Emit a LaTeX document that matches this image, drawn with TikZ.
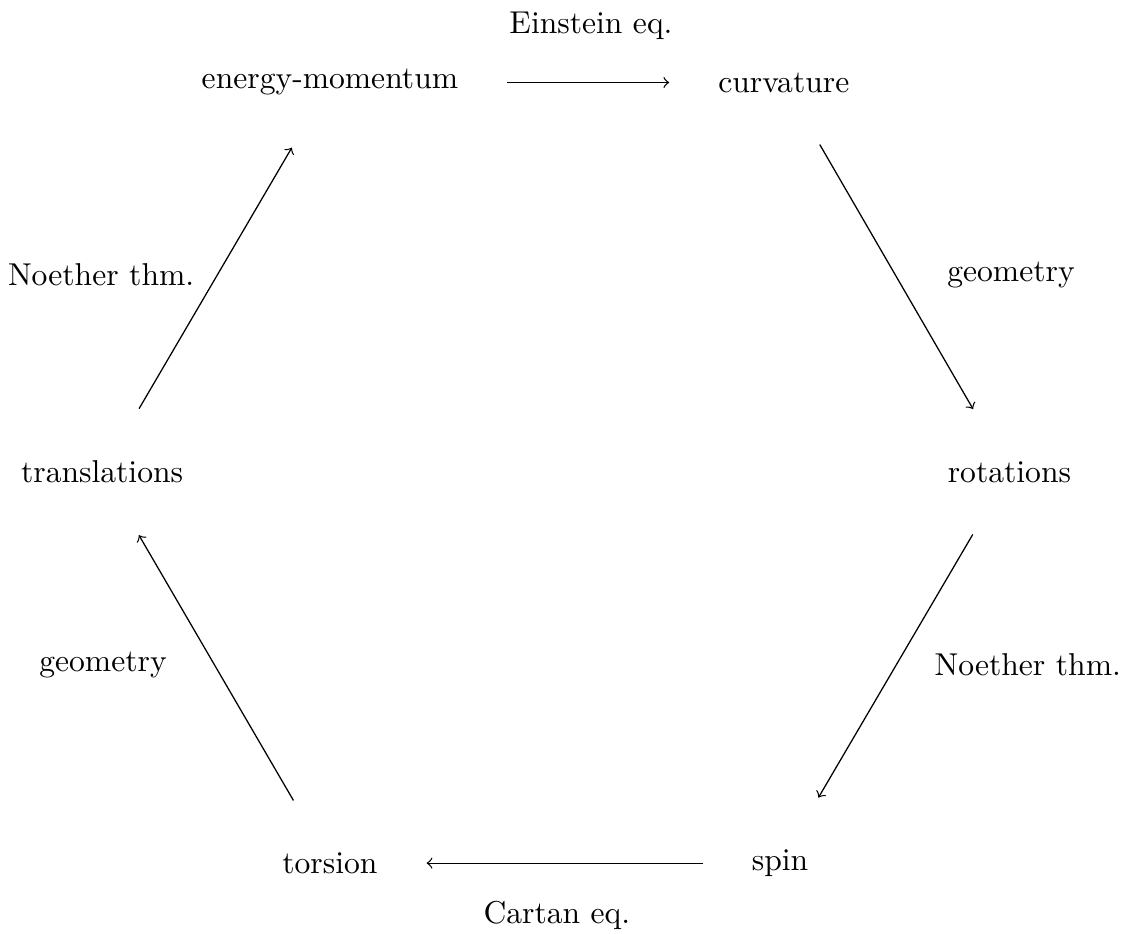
\documentclass[tikz,border=0pt]{standalone}
\usetikzlibrary{arrows}
\begin{document}
\begin{tikzpicture}[x=1pt,y=1pt,
  vert/.style={inner sep=3.33pt},
  lbl/.style={inner sep=0pt},
  conn/.style={->,shorten <=12pt,shorten >=12pt},
  diag/.style={->,shorten <=15pt,shorten >=15pt}]
\useasboundingbox (-175.6,-146.2) rectangle (179.1,149.3);
\node[vert] (em) at (-71.2,123.2) {energy-momentum};
\node[vert] (cu) at (72.4,123.2) {curvature};
\node[vert] (ro) at (143.8,0) {rotations};
\node[vert] (sp) at (71.2,-123.8) {spin};
\node[vert] (to) at (-71.2,-123.8) {torsion};
\node[vert] (tr) at (-143.3,0) {translations};
\draw[conn] (em) -- (cu);
\draw[diag] (cu) -- (ro);
\draw[diag] (ro) -- (sp);
\draw[conn] (sp) -- (to);
\draw[diag] (to) -- (tr);
\draw[diag] (tr) -- (em);
\node[lbl] (l1) at (11.4,141.2) {Einstein eq.};
\node[lbl] (l2) at (144.3,62.3) {geometry};
\node[lbl] (l3) at (149.6,-61.1) {Noether thm.};
\node[lbl] (l4) at (0.6,-140.2) {Cartan eq.};
\node[lbl] (l5) at (-143.0,-61.1) {geometry};
\node[lbl] (l6) at (-143.6,62.3) {Noether thm.};
\end{tikzpicture}
\end{document}
